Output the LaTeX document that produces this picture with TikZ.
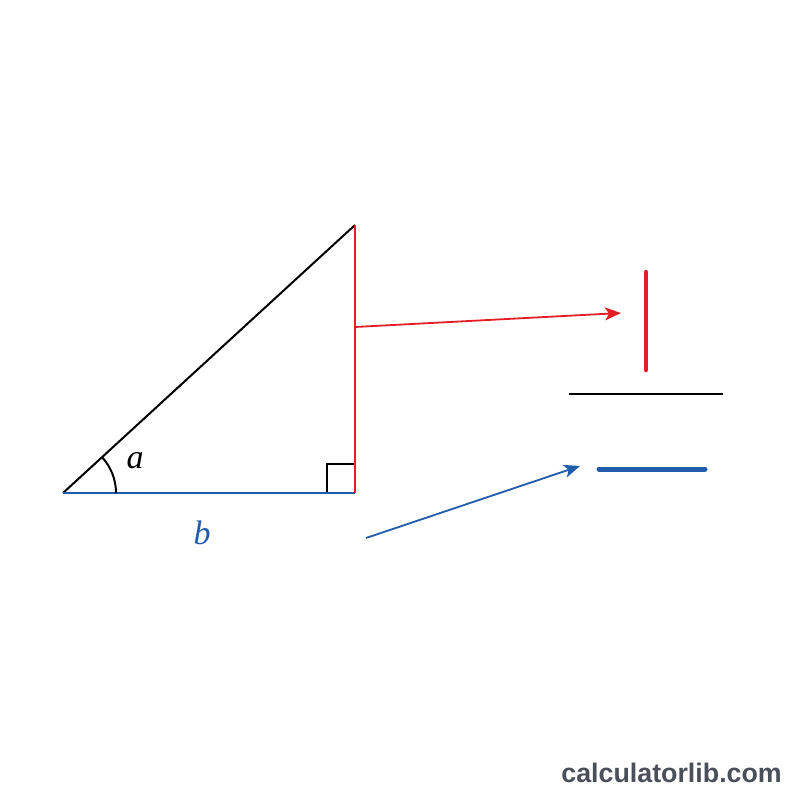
\documentclass[tikz,border=0pt]{standalone}
\usepackage{fontspec}
\setmainfont{Liberation Serif}
\newfontfamily\wmfont{Liberation Sans}
\usetikzlibrary{arrows.meta}
\definecolor{tred}{RGB}{228,30,38}
\definecolor{tblue}{RGB}{32,92,172}
\definecolor{wmgray}{RGB}{74,79,90}
\tikzset{
  edge/.style={line width=2pt},
  arr/.style={line width=1.8pt,-{Stealth[length=16pt,width=13pt,inset=4pt]}},
  lbl/.style={font=\fontsize{34}{34}\selectfont\itshape, inner sep=0pt}
}
\begin{document}
\begin{tikzpicture}[x=1pt,y=-1pt]
\useasboundingbox (0,0) rectangle (800,800);
\fill[white] (0,0) rectangle (800,800);
\coordinate (A) at (63,493);
\coordinate (B) at (355,493);
\coordinate (C) at (355,225);
\coordinate (R1) at (355,327);
\coordinate (R2) at (621,313);
\coordinate (B1) at (366,538);
\coordinate (B2) at (580,466);
% right angle mark
\draw[edge] (327,493) -- (327,464) -- (355,464);
% triangle
\draw[edge] (A) -- (C);
\draw[edge,tblue] (A) -- (B);
\draw[edge,tred] (B) -- (C);
% angle arc
\draw[edge] (116,493) arc[start angle=0,end angle=-42.5,radius=53];
\node[lbl] (la) at (135,461) {a};
\node[lbl,tblue] (lb) at (202,533) {b};
% arrows
\draw[arr,tred] (R1) -- (R2);
\draw[arr,tblue] (B1) -- (B2);
% fraction
\coordinate (N1) at (646,272); \coordinate (N2) at (646,370);
\draw[tred,line width=4.5pt,line cap=round] (N1) -- (N2);
\coordinate (F1) at (569,394); \coordinate (F2) at (723,394);
\draw[line width=1.8pt] (F1) -- (F2);
\coordinate (D1) at (599,469); \coordinate (D2) at (705,469);
\draw[tblue,line width=5pt,line cap=round] (D1) -- (D2);
% watermark
\node[anchor=base east, inner sep=0pt, text=wmgray, font=\wmfont\bfseries\fontsize{26.8}{27}\selectfont] (wm) at (782,782) {calculatorlib.com};
\end{tikzpicture}
\end{document}
